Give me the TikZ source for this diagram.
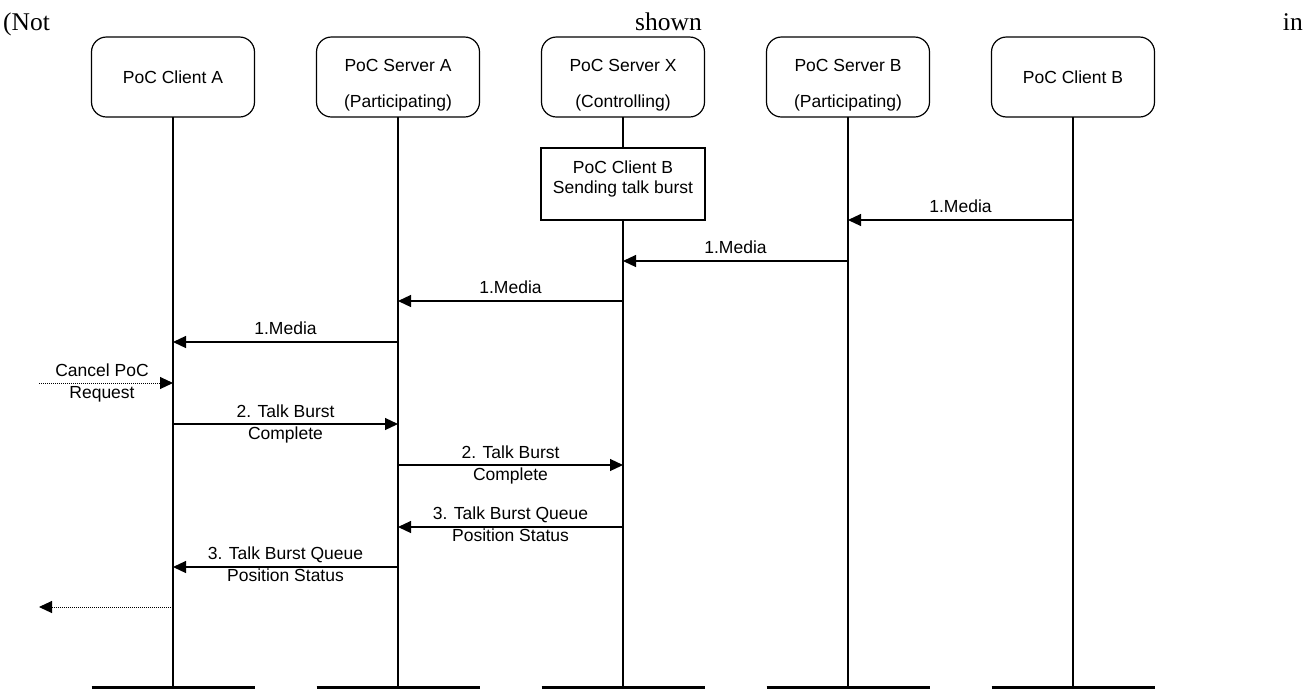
\documentclass[tikz,border=0pt]{standalone}
\usepackage{fontspec}
\setmainfont{Liberation Sans}
\newfontfamily\serifnote{Liberation Serif}
\usetikzlibrary{arrows.meta, positioning}

\begin{document}
\begin{tikzpicture}[
    x=1pt, y=-1pt,
    node distance=62pt,
    part/.style={draw, rounded corners=15pt, minimum width=163pt, minimum height=80pt, outer sep=0pt, line width=1.2pt, font=\fontsize{17.5}{36}\selectfont},
    ptext/.style={align=center, font=\fontsize{17.5}{36}\selectfont},
    note/.style={draw, fill=white, minimum width=164pt, minimum height=72pt, outer sep=0pt, line width=1.2pt},
    lbl/.style={align=center, font=\fontsize{17.5}{21.5}\selectfont, inner sep=0pt},
    hdr/.style={anchor=base west, inner sep=0pt, font=\serifnote\fontsize{25.5}{30}\selectfont},
    life/.style={line width=1.2pt},
    bar/.style={line width=3pt},
    msg/.style={line width=1.2pt, -{Triangle[length=13pt, width=12pt]}},
    dmsg/.style={msg, line width=1pt, dash pattern=on 1pt off 1pt}
]
    \useasboundingbox (0,0) rectangle (1307,689);

    % header words
    \node[hdr] (hnot) at (3,30) {(Not};
    \node[hdr] (hshown) at (635,30) {shown};
    \node[hdr, anchor=base east] (hin) at (1303,30) {in};

    % participants
    \node[part] (ca) at (173,77) {PoC Client A};
    \node[part, right=of ca] (sa) {};
    \node[part, right=of sa] (sx) {};
    \node[part, right=of sx] (sb) {};
    \node[part, right=of sb] (cb) {PoC Client B};
    \node[ptext, yshift=-8.5pt] (sa-t) at (sa) {PoC Server A\\(Participating)};
    \node[ptext, yshift=-8.5pt] (sx-t) at (sx) {PoC Server X\\(Controlling)};
    \node[ptext, yshift=-8.5pt] (sb-t) at (sb) {PoC Server B\\(Participating)};

    % lifelines
    \coordinate (bot) at (0,687.5);
    \foreach \p in {ca,sa,sx,sb,cb} {
        \draw[life] (\p) -- (\p |- bot);
        \draw[bar] (\p.west |- bot) -- (\p.east |- bot);
    }

    \node[note, below=31pt of sx] (send) {};
    \node[lbl, yshift=5pt, font=\fontsize{17.5}{20.5}\selectfont] (send-t) at (send) {PoC Client B\\Sending talk burst};

    % message rows
    \foreach \n/\y in {1/220, 2/261, 3/301, 4/342, 5/383, 6/424, 7/465, 8/527, 9/567, 10/607}
        \coordinate (r\n) at (0,\y);
    \coordinate (ext) at (39,0);

    \draw[msg] (cb |- r1) -- node[lbl, above=7pt] (m1) {1.Media} (sb |- r1);
    \draw[msg] (sb |- r2) -- node[lbl, above=7pt] (m2) {1.Media} (sx |- r2);
    \draw[msg] (sx |- r3) -- node[lbl, above=7pt] (m3) {1.Media} (sa |- r3);
    \draw[msg] (sa |- r4) -- node[lbl, above=7pt] (m4) {1.Media} (ca |- r4);
    \draw[dmsg] (ext |- r5) -- node[lbl, xshift=-4pt] (m5) {Cancel PoC\\Request} (ca |- r5);
    \draw[msg] (ca |- r6) -- node[lbl] (m6) {2. Talk Burst\\Complete} (sa |- r6);
    \draw[msg] (sa |- r7) -- node[lbl] (m7) {2. Talk Burst\\Complete} (sx |- r7);
    \draw[msg] (sx |- r8) -- node[lbl, yshift=3pt] (m8) {3. Talk Burst Queue\\Position Status} (sa |- r8);
    \draw[msg] (sa |- r9) -- node[lbl, yshift=3pt] (m9) {3. Talk Burst Queue\\Position Status} (ca |- r9);
    \draw[dmsg] (ca |- r10) -- (ext |- r10);
\end{tikzpicture}
\end{document}
